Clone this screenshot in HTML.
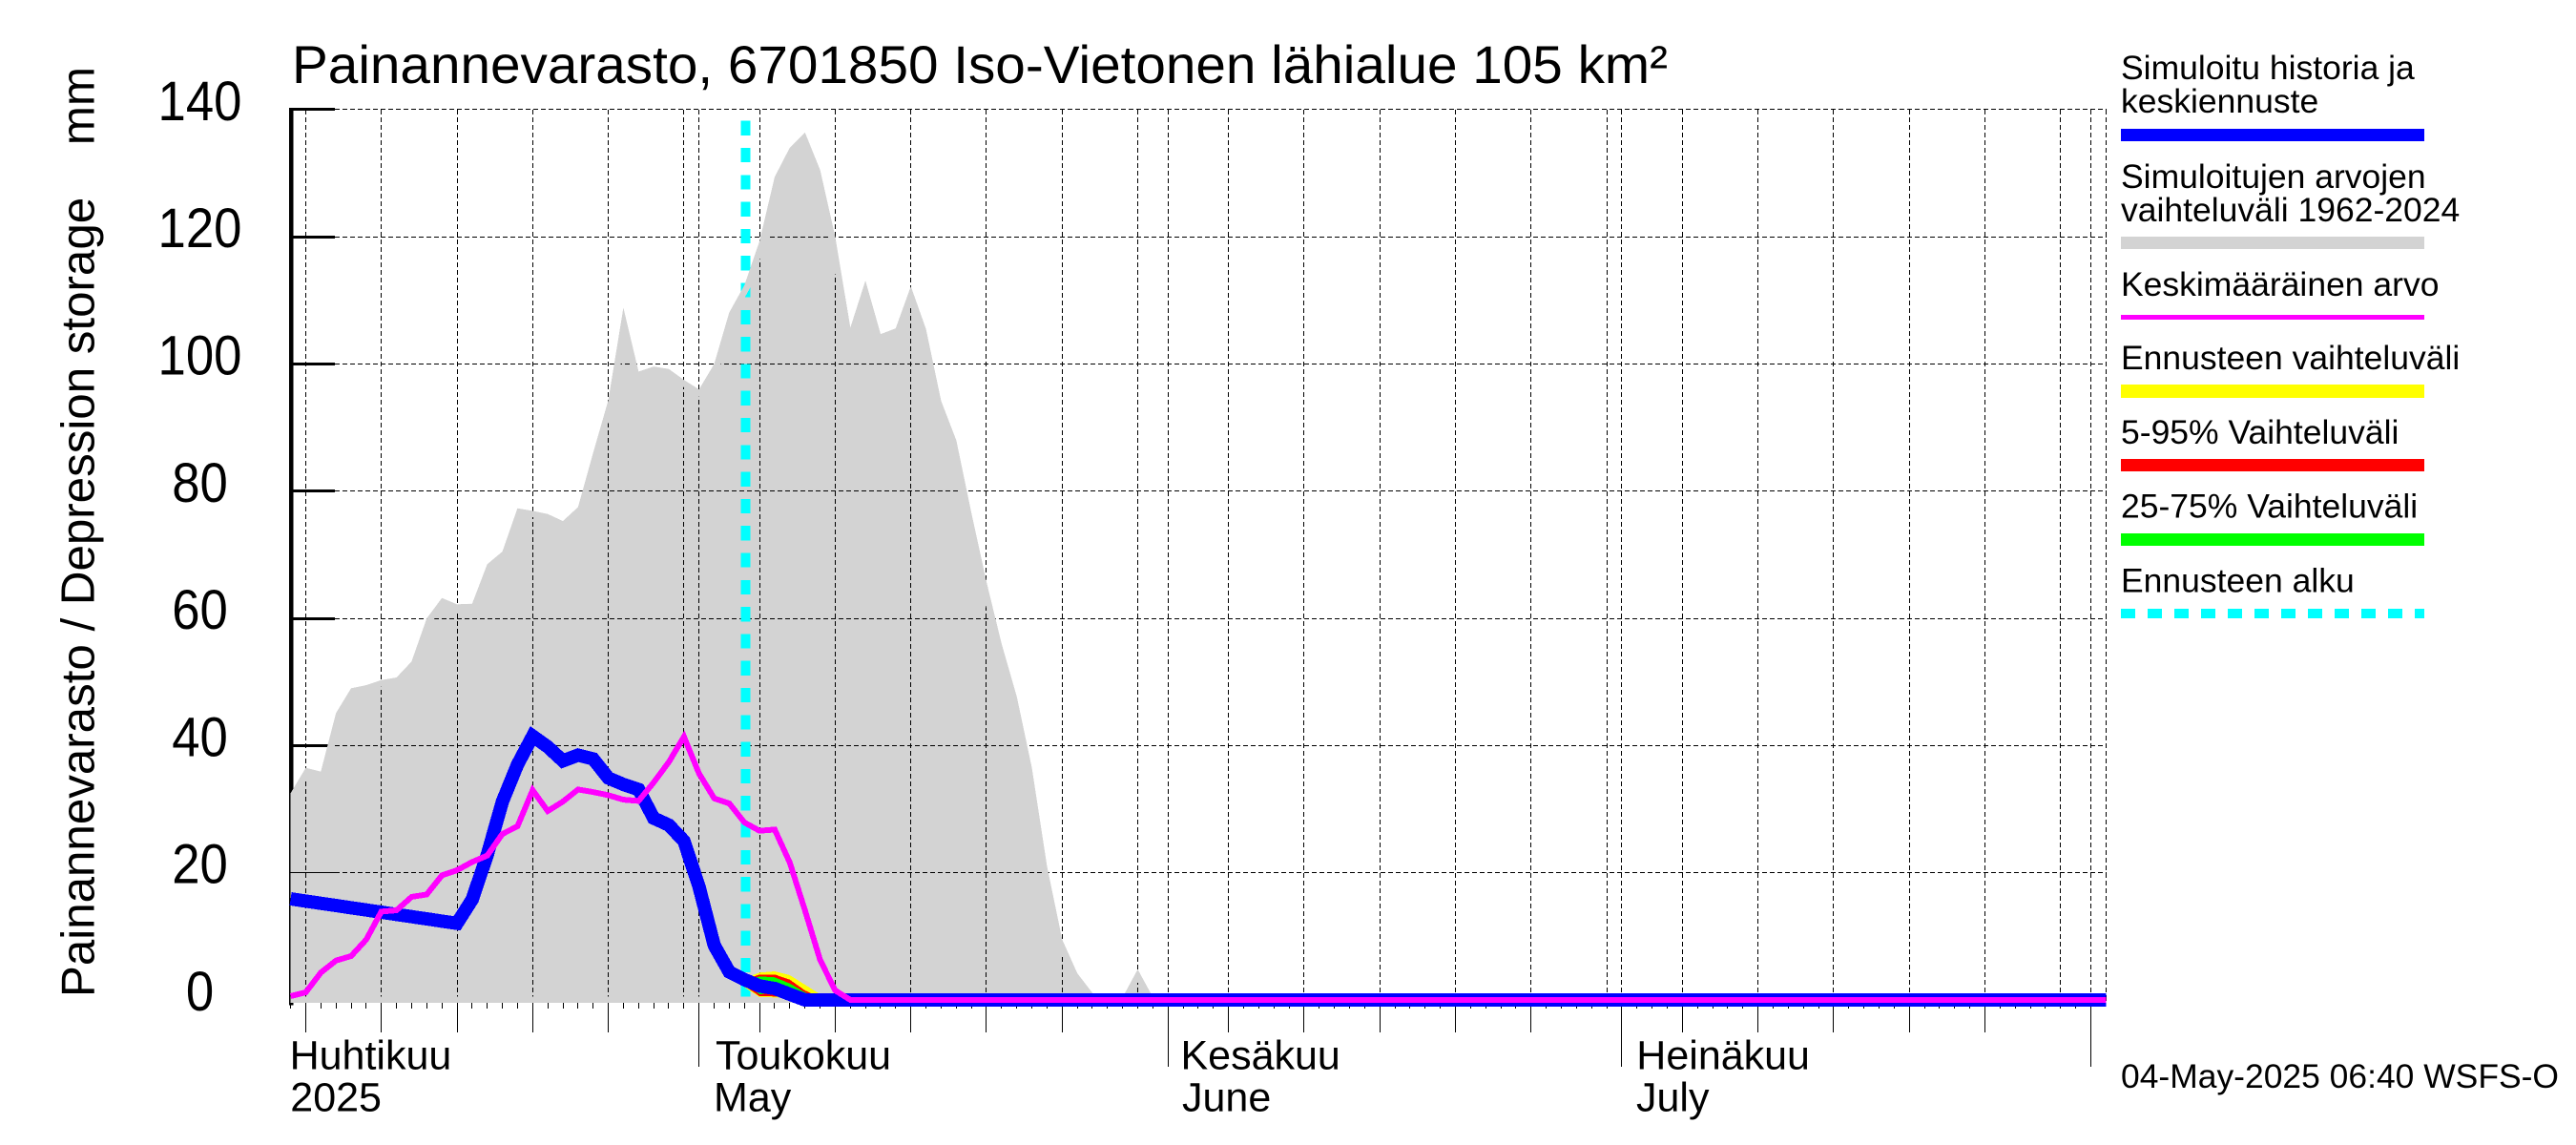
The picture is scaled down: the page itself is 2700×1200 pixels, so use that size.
<!DOCTYPE html>
<html lang="fi">
<head>
<meta charset="utf-8">
<title>Painannevarasto 6701850 Iso-Vietonen</title>
<style>
html,body{margin:0;padding:0;background:#fff;}
svg{display:block;font-family:"Liberation Sans",sans-serif;fill:#000;}
.lg{font-size:35.5px;}
.xl{font-size:43px;}
</style>
</head>
<body>
<svg id="chart" xmlns="http://www.w3.org/2000/svg" width="2700" height="1200" viewBox="0 0 2700 1200">
  <rect x="0" y="0" width="2700" height="1200" fill="#fff"/>
  <g id="under" shape-rendering="crispEdges"></g>
  <g id="plot"></g>

  <text x="306" y="87" font-size="55.5" textLength="1442" lengthAdjust="spacingAndGlyphs">Painannevarasto, 6701850 Iso-Vietonen lähialue 105 km²</text>
  <text transform="translate(98.5,1045) rotate(-90)" font-size="49.5" textLength="975" lengthAdjust="spacingAndGlyphs" xml:space="preserve" style="white-space:pre">Painannevarasto / Depression storage    mm</text>

  <g id="ylabels"></g>

  <g class="xl">
    <text x="303.6" y="1120.5">Huhtikuu</text>
    <text x="304.3" y="1164.5">2025</text>
    <text x="750" y="1120.5">Toukokuu</text>
    <text x="748" y="1164.5">May</text>
    <text x="1237.5" y="1120.5">Kesäkuu</text>
    <text x="1239" y="1164.5">June</text>
    <text x="1715.3" y="1120.5">Heinäkuu</text>
    <text x="1715" y="1164.5">July</text>
  </g>

  <text x="2223" y="1140" font-size="35" textLength="459" lengthAdjust="spacingAndGlyphs">04-May-2025 06:40 WSFS-O</text>

  <g class="lg" shape-rendering="crispEdges">
    <text x="2223" y="83">Simuloitu historia ja</text>
    <text x="2223" y="118">keskiennuste</text>
    <rect x="2223" y="135" width="318" height="13" fill="#0000ff"/>
    <text x="2223" y="197">Simuloitujen arvojen</text>
    <text x="2223" y="232">vaihteluväli 1962-2024</text>
    <rect x="2223" y="248" width="318" height="13" fill="#d3d3d3"/>
    <text x="2223" y="310">Keskimääräinen arvo</text>
    <rect x="2223" y="330" width="318" height="5" fill="#ff00ff"/>
    <text x="2223" y="387">Ennusteen vaihteluväli</text>
    <rect x="2223" y="403" width="318" height="14" fill="#ffff00"/>
    <text x="2223" y="465">5-95% Vaihteluväli</text>
    <rect x="2223" y="481" width="318" height="13" fill="#ff0000"/>
    <text x="2223" y="542.5">25-75% Vaihteluväli</text>
    <rect x="2223" y="559" width="318" height="13" fill="#00ff00"/>
    <text x="2223" y="620.5">Ennusteen alku</text>
    <line x1="2223" y1="643" x2="2541" y2="643" stroke="#00ffff" stroke-width="10" stroke-dasharray="15 13"/>
  </g>
</svg>

<script>
// ---- chart data (days counted from 1 April 2025; series begin on seriesStartDay) ----
var seriesStartDay = 3;
var yTickValues = [140, 120, 100, 80, 60, 40, 20, 0];
var gridDays = [4,9,14,19,24,29,30,34,39,44,49,54,59,61,65,70,75,80,85,90,91,95,100,105,110,115,120,122,123];
var labeledTickDays = [4,9,14,19,24,34,39,44,49,54,65,70,75,80,85,95,100,105,110,115];
var monthTickDays = [30,61,91,122];
var tickFirstDay = 3;
var tickLastDay = 122;
var forecastStartDay = 33.05;

var rangeUpper = [
  32.5,36.5,35.9,45.1,49,49.5,50.3,50.7,53.2,60,
  63.2,62.2,62.3,68.5,70.5,77.3,76.9,76.4,75.3,77.5,
  86,94.3,108.8,98.8,99.6,99.2,97.5,96,100,108.1,
  112.4,119.3,129.4,134,136.4,130.5,120,105.7,113.1,104.7,
  105.6,112.2,105.5,94.2,88,76.6,65.7,56,47.7,36.5,
  21,9.5,4.2,1.1,0,0.4,4.8,0.4,
  0,0,0,
  0,0,0,0,0,0,0,0,0,0,
  0,0,0,0,0,0,0,0,0,0,
  0,0,0,0,0,0,0,0,0,0,
  0,0,0,0,0,0,0,0,0,0,
  0,0,0,0,0,0,0,0,0,0,
  0,0,0,0,0,0,0,0,0,0
];
var simulated = [
  15.9,15.55,15.2,14.85,14.5,14.15,13.8,13.45,13.1,12.75,
  12.4,12.05,15.8,22.8,31.2,37,41.5,39.8,37.6,38.5,
  37.9,34.9,33.9,33.1,28.6,27.5,25,17.8,8.6,4.4,
  3.2,2.2,1.8,0.9,0,
  0,0,0,0,0,0,
  0,0,0,0,0,0,0,0,0,0,
  0,0,0,0,0,0,0,0,0,0,
  0,0,0,0,0,0,0,0,0,0,
  0,0,0,0,0,0,0,0,0,0,
  0,0,0,0,0,0,0,0,0,0,
  0,0,0,0,0,0,0,0,0,0,
  0,0,0,0,0,0,0,0,0,0,
  0,0,0,0,0,0,0,0,0,0
];
var meanValue = [
  0.6,1.2,4.3,6.2,6.9,9.5,13.9,14.1,16.2,16.6,
  19.6,20.4,21.7,22.7,26.1,27.3,33,29.7,31.2,33.1,
  32.7,32.2,31.5,31.3,34.2,37.4,41.4,35.6,31.7,30.9,
  27.9,26.6,26.8,21.6,14.1,6.3,1.5,0,
  0,0,0,
  0,0,0,0,0,0,0,0,0,0,
  0,0,0,0,0,0,0,0,0,0,
  0,0,0,0,0,0,0,0,0,0,
  0,0,0,0,0,0,0,0,0,0,
  0,0,0,0,0,0,0,0,0,0,
  0,0,0,0,0,0,0,0,0,0,
  0,0,0,0,0,0,0,0,0,0,
  0,0,0,0,0,0,0,0,0,0
];
var forecastDays = [33,34,35,36,37,38];
var forecastMaxUpper = [3.4,4.3,4.5,3.9,2.4,0.9];
var forecastMaxLower = [2.0,0.45,0.4,0.4,0.4,0.4];
var p95Upper = [3.2,4.0,4.0,3.2,1.5,0.4];
var p95Lower = [2.2,0.6,0.55,0.5,0.4,0.4];
var p75Upper = [3.0,3.7,3.55,2.6,1.2,0.3];
var p75Lower = [2.6,0.9,1.1,0.8,0.4,0.3];
var rangeFloor = -0.45;

// ---- axis functions ----
function xScale(day){ return 257.03 + 15.856 * day; }
function yScale(v){ return 1048 - 6.665 * v; }
function seriesX(i){ return xScale(seriesStartDay + i); }

var NS = 'http://www.w3.org/2000/svg';
var under = document.getElementById('under');
var plot = document.getElementById('plot');
var ylabels = document.getElementById('ylabels');
var plotRight = xScale(123) + 0.5;

function mk(parent, tag, attrs){
  var el = document.createElementNS(NS, tag);
  for (var k in attrs){ el.setAttribute(k, attrs[k]); }
  parent.appendChild(el);
  return el;
}
function snap(v){ return Math.round(v - 0.5) + 0.5; }
function pts(list){ return list.map(function(p){ return p[0].toFixed(1) + ',' + p[1].toFixed(1); }).join(' '); }
function seriesPoints(values){
  return values.map(function(v, i){ return [seriesX(i), yScale(v)]; });
}
function bandPoints(days, upper, lower){
  var top = days.map(function(d, i){ return [xScale(d), yScale(upper[i])]; });
  var bottom = days.map(function(d, i){ return [xScale(d), yScale(lower[i])]; }).reverse();
  return top.concat(bottom);
}

// axis line and thick y ticks sit beneath the grey area
var axisLine = mk(under, 'rect', {x: 303, y: 113.5, width: 4.5, height: 940, fill: '#000'});



yTickValues.forEach(function(v){
  var t = mk(under, 'rect', {x: 303, y: Math.round(yScale(v) - 1.5), width: 48, height: 3, fill: '#000'});
  
  
  var lab = mk(ylabels, 'text', {x: 209.5, y: yScale(v) + 11, 'font-size': 58, 'text-anchor': 'middle', textLength: 29.3 * String(v).length, lengthAdjust: 'spacingAndGlyphs'});
  lab.textContent = String(v);
  
  
});

// grey simulated range
var rangePoly = seriesPoints(rangeUpper);
rangePoly.push([seriesX(rangeUpper.length - 1), yScale(rangeFloor)]);
rangePoly.push([seriesX(0), yScale(rangeFloor)]);

var defs = mk(plot, 'defs', {});
var clip = mk(defs, 'clipPath', {id: 'rangeClip'});
mk(clip, 'polygon', {points: pts(rangePoly)});

var rangeFill = mk(plot, 'polygon', {points: pts(rangePoly), fill: '#d3d3d3', 'shape-rendering': 'crispEdges'});



// grid
var gridG = mk(plot, 'g', {stroke: '#000', 'stroke-width': 1, 'stroke-dasharray': '5 3', 'shape-rendering': 'crispEdges', fill: 'none'});


gridDays.forEach(function(d){
  var gx = snap(xScale(d));
  var g = mk(gridG, 'line', {x1: gx, y1: yScale(140), x2: gx, y2: yScale(0)});
  
  
});
yTickValues.forEach(function(v){
  var gy = snap(yScale(v));
  var g = mk(gridG, 'line', {x1: 351, y1: gy, x2: plotRight, y2: gy});
  
  
});

// forecast start marker
var fs = snap(xScale(forecastStartDay));
var startLine = mk(plot, 'line', {x1: fs, y1: 126.7, x2: fs, y2: 1051, stroke: '#00ffff', 'stroke-width': 10, 'stroke-dasharray': '15.2 13.1', 'shape-rendering': 'crispEdges'});



// grey inner edge drawn over grid and marker
var rangeEdge = mk(plot, 'polygon', {points: pts(rangePoly), fill: 'none', stroke: '#d3d3d3', 'stroke-width': 13, 'clip-path': 'url(#rangeClip)', 'shape-rendering': 'crispEdges'});



// thin axis remnants visible over grey
var thinAxis = mk(plot, 'rect', {x: 303, y: yScale(32.5), width: 1.2, height: yScale(rangeFloor) - yScale(32.5), fill: '#000', 'shape-rendering': 'crispEdges'});


var thinTick = mk(plot, 'rect', {x: 303, y: Math.floor(yScale(20)), width: 48, height: 1, fill: '#000', 'shape-rendering': 'crispEdges'});



// x ticks
var tickG = mk(plot, 'g', {stroke: '#000', 'stroke-width': 1, 'shape-rendering': 'crispEdges'});


for (var d = tickFirstDay; d <= tickLastDay; d++){
  var tx = snap(xScale(d));
  var st = mk(tickG, 'line', {x1: tx, y1: 1051, x2: tx, y2: 1057});
  
  
}
labeledTickDays.forEach(function(day){
  var tx = snap(xScale(day));
  var t = mk(tickG, 'line', {x1: tx, y1: 1051, x2: tx, y2: 1082});
  
  
});
monthTickDays.forEach(function(day){
  var tx = snap(xScale(day));
  var t = mk(tickG, 'line', {x1: tx, y1: 1051, x2: tx, y2: 1118});
  
  
});

// forecast bands
var bandYellow = mk(plot, 'polygon', {points: pts(bandPoints(forecastDays, forecastMaxUpper, forecastMaxLower)), fill: '#ffff00', 'shape-rendering': 'crispEdges'});


var bandRed = mk(plot, 'polygon', {points: pts(bandPoints(forecastDays, p95Upper, p95Lower)), fill: '#ff0000', 'shape-rendering': 'crispEdges'});


var bandGreen = mk(plot, 'polygon', {points: pts(bandPoints(forecastDays, p75Upper, p75Lower)), fill: '#00ff00', 'shape-rendering': 'crispEdges'});



// lines
var blue = mk(plot, 'polyline', {points: pts(seriesPoints(simulated)), fill: 'none', stroke: '#0000ff', 'stroke-width': 14, 'stroke-linejoin': 'miter', 'shape-rendering': 'crispEdges'});


var magenta = mk(plot, 'polyline', {points: pts(seriesPoints(meanValue)), fill: 'none', stroke: '#ff00ff', 'stroke-width': 6, 'stroke-linejoin': 'miter', 'shape-rendering': 'crispEdges'});


</script>
</body>
</html>
